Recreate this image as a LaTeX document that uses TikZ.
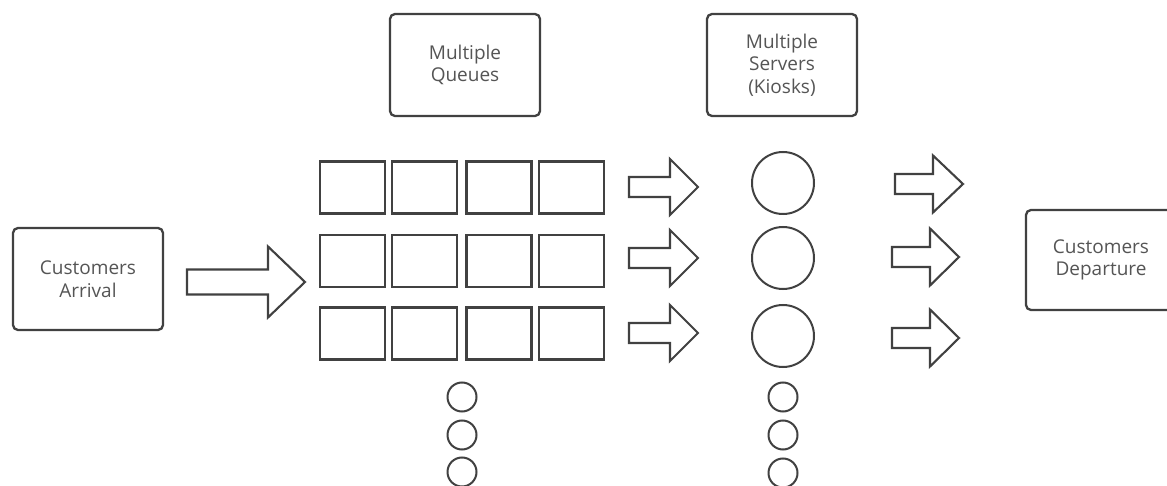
\documentclass[tikz,border=0pt]{standalone}
\usepackage{fontspec}
\setmainfont{Open Sans}
\definecolor{edge}{RGB}{65,65,65}
\definecolor{txt}{RGB}{85,85,85}
\tikzset{
  lab/.style={draw=edge, line width=2.3pt, rounded corners=5pt, fill=white,
    text=txt, align=center, inner sep=0pt,
    font=\fontsize{19}{22.5}\selectfont},
  cell/.style={draw=edge, line width=2.3pt, inner sep=0pt},
  srv/.style={draw=edge, line width=2pt, circle, inner sep=0pt, minimum size=62pt},
  dotc/.style={draw=edge, line width=2pt, circle, inner sep=0pt, minimum size=29pt},
  barrow/.style={draw=edge, line width=2.1pt, line join=miter}
}
\newcommand{\blockarrow}[6]{%
  \draw[barrow] (#1,#4-#5) -- (#2,#4-#5) -- (#2,#4-#6) -- (#3,#4) -- (#2,#4+#6) -- (#2,#4+#5) -- (#1,#4+#5) -- cycle;}
\begin{document}
\begin{tikzpicture}[x=1pt,y=-1pt]
\useasboundingbox (0,0) rectangle (1167,486);
\clip (0,0) rectangle (1167,486);
\fill[white] (0,0) rectangle (1167,486);

% label boxes
\node[lab, minimum width=150pt, minimum height=102pt] (arrival) at (88,279) {Customers\\Arrival};
\node[lab, minimum width=150pt, minimum height=102pt] (queues) at (465,65) {Multiple\\Queues};
\node[lab, minimum width=150pt, minimum height=102pt] (servers) at (782,65) {Multiple\\Servers\\(Kiosks)};
\node[lab, minimum width=150pt, minimum height=100pt] (departure) at (1101,260) {Customers\\Departure};

% queue cells
\foreach \r/\y in {1/187.5, 2/261, 3/333.5}{
  \foreach \c/\x in {1/352.5, 2/424.5, 3/499, 4/571.5}{
    \node[cell, minimum width=65pt, minimum height=52pt] (q\r\c) at (\x,\y) {};
  }
}

% servers
\node[srv] (s1) at (783,183) {};
\node[srv] (s2) at (783,258) {};
\node[srv] (s3) at (783,336) {};

% ellipsis circles
\node[dotc] (qd1) at (462,397) {};
\node[dotc] (qd2) at (462,435) {};
\node[dotc] (qd3) at (462,472) {};
\node[dotc] (sd1) at (783,397) {};
\node[dotc] (sd2) at (783,435) {};
\node[dotc] (sd3) at (783,473) {};

% block arrows
\blockarrow{187}{268}{305}{282}{12.5}{35.5}
\blockarrow{629}{670}{698}{187}{10}{28}
\blockarrow{629}{670}{698}{258}{10}{28}
\blockarrow{629}{670}{698}{333}{10}{28}
\blockarrow{895}{933}{963}{184}{10}{28.5}
\blockarrow{892}{930}{959}{257}{10}{28.5}
\blockarrow{892}{930}{959}{338}{10}{28.5}
\end{tikzpicture}
\end{document}
